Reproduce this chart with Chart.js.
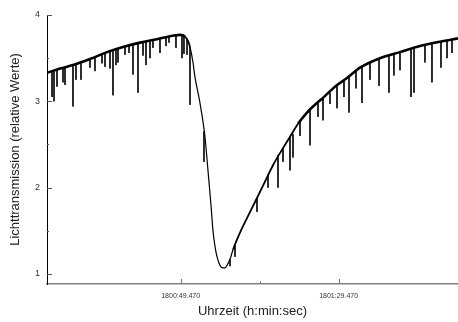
<!DOCTYPE html>
<html>
<head>
<meta charset="utf-8">
<script src="https://cdn.jsdelivr.net/npm/chart.js@4/dist/chart.umd.min.js"></script>
<style>
    html, body { margin: 0; padding: 0; background: #ffffff; }
    #wrap { width: 458px; height: 322px; position: relative; }
</style>
</head>
<body>
<div id="wrap"><canvas id="curve"></canvas></div>
<script>
// ============================================
// DATA - seconds after 18:00 (h:min:sec)
// ============================================
const times = [15.62, 18.91, 22.2, 26.5, 30.81, 34.86, 39.17, 43.47, 47.52, 49.3, 50.56, 51.32,
    51.83, 52.59, 53.09, 54.36, 55.62, 56.38, 57.14, 57.65, 58.16, 58.66, 59.42, 60.18, 60.69,
    61.2, 61.96, 62.71, 64.49, 66.51, 68.79, 70.82, 72.84, 74.87, 77.15, 79.18, 81.45, 83.48,
    85.5, 88.54, 91.58, 94.87, 99.94, 105.0, 110.06, 115.13, 119.69];
const transmission = [3.33, 3.38, 3.42, 3.49, 3.57, 3.63, 3.68, 3.72, 3.76, 3.77, 3.75, 3.70,
    3.63, 3.45, 3.28, 2.98, 2.59, 2.20, 1.80, 1.50, 1.32, 1.20, 1.10, 1.07, 1.07,
    1.10, 1.17, 1.28, 1.48, 1.67, 1.88, 2.07, 2.26, 2.42, 2.59, 2.74, 2.87, 2.96,
    3.04, 3.17, 3.27, 3.39, 3.50, 3.57, 3.64, 3.69, 3.73];

// absorption dips: time, upper end, lower end
const dipTimes = [16.89, 17.39, 18.15, 19.67, 20.18, 22.2, 22.96, 24.23, 26.5, 27.77, 29.55,
    30.31, 31.57, 32.33, 33.09, 33.6, 35.37, 36.38, 37.4, 38.66, 39.93, 40.69, 41.7, 42.46,
    44.23, 45.75, 46.51, 48.28, 49.8, 50.3, 51.07, 51.83, 55.37, 61.96, 63.22, 68.79, 71.58,
    74.11, 75.38, 77.15, 77.91, 79.69, 82.22, 84.24, 85.5, 87.28, 89.05, 90.82, 92.09, 93.86,
    95.38, 97.41, 99.69, 102.21, 103.47, 105.0, 107.79, 108.55, 111.33, 113.1, 115.38, 116.91,
    118.17];
const dipTops = [3.35, 3.36, 3.37, 3.39, 3.40, 3.42, 3.43, 3.45, 3.49, 3.51, 3.54,
    3.55, 3.58, 3.59, 3.60, 3.61, 3.63, 3.64, 3.66, 3.67, 3.69, 3.69, 3.70, 3.71,
    3.73, 3.74, 3.75, 3.76, 3.76, 3.75, 3.72, 3.63, 2.65, 1.17, 1.33, 1.88, 2.15,
    2.38, 2.46, 2.59, 2.62, 2.76, 2.90, 2.99, 3.04, 3.10, 3.19, 3.25, 3.28, 3.36,
    3.40, 3.45, 3.50, 3.53, 3.55, 3.57, 3.60, 3.61, 3.65, 3.66, 3.69, 3.70,
    3.72];
const dipBottoms = [3.05, 3.00, 3.17, 3.22, 3.19, 2.94, 3.25, 3.25, 3.39, 3.35, 3.44,
    3.40, 3.38, 3.07, 3.42, 3.45, 3.54, 3.56, 3.31, 3.10, 3.53, 3.42, 3.50, 3.62,
    3.56, 3.64, 3.68, 3.62, 3.50, 3.55, 3.54, 2.96, 2.30, 1.09, 1.20, 1.72, 2.00,
    2.00, 2.30, 2.20, 2.35, 2.60, 2.49, 2.82, 2.78, 2.97, 2.92, 3.05, 2.87, 3.15,
    2.98, 3.25, 3.18, 3.10, 3.30, 3.36, 3.05, 3.10, 3.45, 3.22, 3.39, 3.50,
    3.56];

// axis ticks
const xTickValues = [49.47, 69.47, 89.47];
const xTickLabels = ['1800:49.470', '', '1801:29.470'];
const yTickValues = [1, 1.5, 2, 2.5, 3, 3.5, 4];
const yTickLabels = ['1', '', '2', '', '3', '', '4'];

// ============================================
// BUILD DATASETS
// ============================================
const curvePoints = times.map((t, i) => ({ x: t, y: transmission[i] }));
const dipPoints = [];
dipTimes.forEach((t, i) => {
    dipPoints.push({ x: t, y: dipTops[i] });
    dipPoints.push({ x: t, y: dipBottoms[i] });
    dipPoints.push({ x: t, y: null });
});

// inward tick marks (the library only draws them outward)
const inwardTicks = {
    id: 'inwardTicks',
    afterDraw(chart) {
        const ctx = chart.ctx;
        const xs = chart.scales.x;
        const ys = chart.scales.y;
        ctx.save();
        ctx.strokeStyle = '#777777';
        ctx.lineWidth = 1;
        xTickValues.forEach((v, i) => {
            const px = Math.round(xs.getPixelForValue(v)) + 0.5;
            const len = xTickLabels[i] ? 5 : 3;
            ctx.beginPath();
            ctx.moveTo(px, xs.top);
            ctx.lineTo(px, xs.top - len);
            ctx.stroke();
        });
        ctx.strokeStyle = '#555555';
        yTickValues.forEach((v, i) => {
            const py = Math.round(ys.getPixelForValue(v)) + 0.5;
            const len = yTickLabels[i] ? 5 : 2;
            ctx.beginPath();
            ctx.moveTo(ys.right, py);
            ctx.lineTo(ys.right + len, py);
            ctx.stroke();
        });
        ctx.restore();
    }
};

// thinner line in the steep part and at the bottom of the dip
const segWidth = (seg) => {
    const y0 = seg.p0.parsed.y;
    const y1 = seg.p1.parsed.y;
    const slope = Math.abs(y1 - y0) / (seg.p1.parsed.x - seg.p0.parsed.x);
    if (slope > 0.2 || Math.max(y0, y1) < 1.3) return 1.2;
    if (slope > 0.06) return 1.8;
    return 2.6;
};

// ============================================
// RENDER CHART
// ============================================
const ctx = document.getElementById('curve').getContext('2d');
new Chart(ctx, {
    type: 'scatter',
    data: {
        datasets: [{
            data: curvePoints,
            showLine: true,
            borderColor: '#000000',
            borderWidth: 2.6,
            cubicInterpolationMode: 'monotone',
            segment: { borderWidth: segWidth },
            pointRadius: 0
        }, {
            data: dipPoints,
            showLine: true,
            spanGaps: false,
            borderColor: '#111111',
            borderWidth: 1,
            pointRadius: 0
        }]
    },
    plugins: [inwardTicks],
    options: {
        responsive: true,
        maintainAspectRatio: false,
        animation: false,
        layout: { padding: { top: 15, right: 0, left: 0, bottom: 0 } },
        plugins: {
            legend: { display: false },
            tooltip: { enabled: false }
        },
        scales: {
            x: {
                type: 'linear',
                min: 15.62,
                max: 119.69,
                afterBuildTicks: (scale) => {
                    scale.ticks = xTickValues.map(v => ({ value: v }));
                },
                afterFit: (scale) => { scale.height = 38; },
                grid: { display: true, drawOnChartArea: false, drawTicks: false },
                border: { color: '#808080', width: 1.5 },
                ticks: {
                    color: '#333333',
                    padding: 8,
                    maxRotation: 0,
                    autoSkip: false,
                    font: { family: 'Liberation Sans, Arial, sans-serif', size: 7 },
                    callback: (value, index) => xTickLabels[index]
                },
                title: {
                    display: true,
                    text: 'Uhrzeit (h:min:sec)',
                    color: '#222222',
                    padding: { top: 0, bottom: 3 },
                    font: { family: 'Liberation Sans, Arial, sans-serif', size: 13 }
                }
            },
            y: {
                min: 0.884,
                max: 4,
                afterBuildTicks: (scale) => {
                    scale.ticks = yTickValues.map(v => ({ value: v }));
                },
                afterFit: (scale) => { scale.width = 47; },
                grid: { display: true, drawOnChartArea: false, drawTicks: false },
                border: { color: '#000000', width: 1 },
                ticks: {
                    color: '#333333',
                    padding: 7,
                    autoSkip: false,
                    font: { family: 'Liberation Sans, Arial, sans-serif', size: 9 },
                    callback: (value, index) => yTickLabels[index]
                },
                title: {
                    display: true,
                    text: 'Lichttransmission (relative Werte)',
                    color: '#222222',
                    padding: { top: 8, bottom: 0 },
                    font: { family: 'Liberation Sans, Arial, sans-serif', size: 13 }
                }
            }
        }
    }
});
</script>
</body>
</html>
